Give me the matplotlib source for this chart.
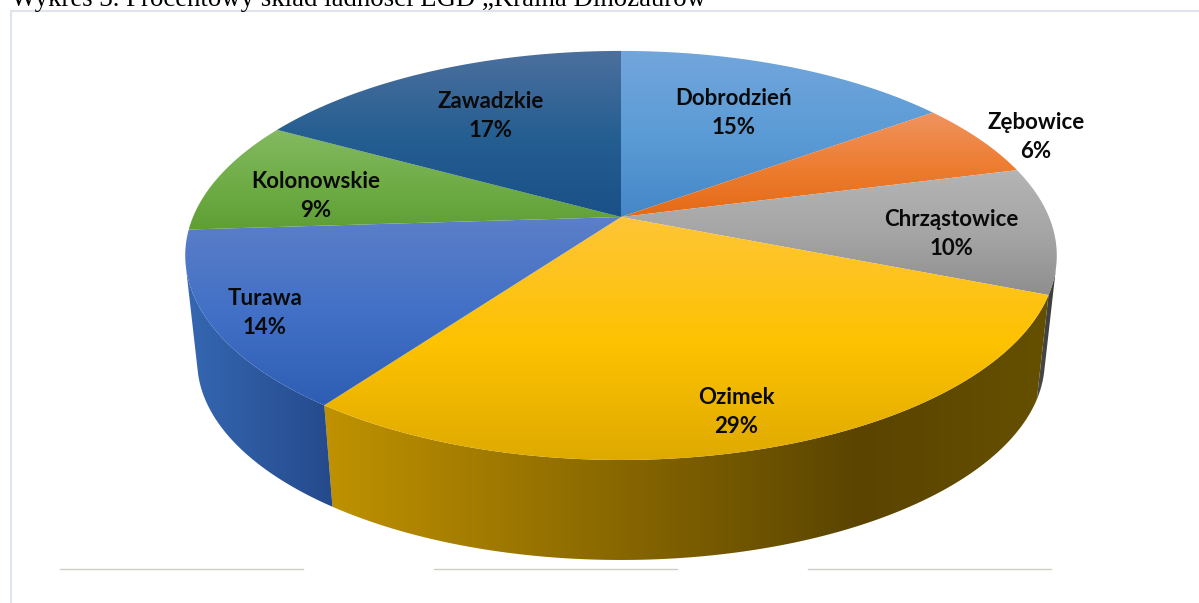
import numpy as np
import matplotlib
matplotlib.use("Agg")
import matplotlib.pyplot as plt
from matplotlib.colors import LinearSegmentedColormap, to_rgb
from matplotlib.patches import Polygon

# ---- data ----
names = ["Dobrodzień", "Zębowice", "Chrząstowice", "Ozimek", "Turawa", "Kolonowskie", "Zawadzkie"]
shares = [15, 6, 10, 29, 14, 9, 17]
title = "Wykres 3. Procentowy skład ładności LGD „Kraina Dinozaurów"

# ---- style ----
top_colors = [
    ("#72a6dc", "#5b9bd5", "#4487c8"),
    ("#f0935f", "#ed7d31", "#e56a15"),
    ("#b4b4b4", "#a5a5a5", "#8e8e8e"),
    ("#ffc537", "#fdc200", "#dfaa00"),
    ("#5c7fc8", "#4170c6", "#2e5db4"),
    ("#83b961", "#70ad47", "#5f9e35"),
    ("#4c709e", "#255e91", "#195188"),
]
wall_colors = [
    ("#3c6a98", "#2d5a88"),
    ("#a05018", "#803e10"),
    ("#4a4a4a", "#3a3a3a"),
    ("#c09200", "#5a4400"),
    ("#3567b2", "#254a8c"),
    ("#4a7030", "#3a5a25"),
    ("#1a4a75", "#143c60"),
]
label_xy = [(734, 113), (1036, 137), (951, 234), (736, 412), (265, 313), (316, 196), (491, 116)]

# ---- perspective model of the disc ----
CX, CY = 621.0, 217.0
BX, AY, K = 428.0, 197.3, 0.188
DEPTH_T, VY = 0.0275, 4096.0


def top_edge(theta):
    u, v = np.cos(theta), np.sin(theta)
    d = 1 + K * u
    return CX + BX * v / d, CY - AY * u / d


def bottom_edge(theta):
    x, y = top_edge(theta)
    return x + DEPTH_T * (CX - x), y + DEPTH_T * (VY - y)


def front_range():
    """Angles between which the outer wall faces the viewer (tangents seen from the vanishing point)."""
    t = np.linspace(0, 2 * np.pi, 7201)
    x, y = top_edge(t)
    cross = np.gradient(x) * (VY - y) - np.gradient(y) * (CX - x)
    front = t[cross < 0]
    return front.min(), front.max()


def fill_gradient(ax, poly_xy, cmap, horizontal, zorder, extent=None):
    xs, ys = poly_xy[:, 0], poly_xy[:, 1]
    x0, x1, y0, y1 = xs.min(), xs.max(), ys.min(), ys.max()
    if extent is not None:
        x0, x1 = extent
    grad = np.linspace(0, 1, 512)
    arr = grad[None, :] if horizontal else grad[:, None]
    im = ax.imshow(arr, cmap=cmap, extent=(x0, x1, y1, y0), origin="upper", vmin=0, vmax=1,
                   aspect="auto", zorder=zorder, interpolation="bilinear")
    patch = Polygon(poly_xy, closed=True, transform=ax.transData, fc="none", ec="none")
    ax.add_patch(patch)
    im.set_clip_path(patch)


fig = plt.figure(figsize=(11.99, 6.03), dpi=100, facecolor="white")
ax = fig.add_axes([0, 0, 1, 1])
ax.set_axis_off()

# frame, title and the stray rules below the chart
ax.plot([10.5, 10.5, 1199], [603, 11, 11], color="#e1e4ec", lw=1.6, zorder=1, solid_joinstyle="miter")
for x0, x1 in [(60, 303), (434, 677), (808, 1051)]:
    ax.plot([x0, x1], [569, 569], color="#cfcdc6", lw=1.0, zorder=1)
ax.text(11, 6, title, family="Liberation Serif", fontsize=19.3, color="black", ha="left",
        va="baseline", zorder=2)

fractions = np.array(shares, dtype=float) / sum(shares)
edges = np.concatenate([[0], np.cumsum(fractions)]) * 2 * np.pi
front_lo, front_hi = front_range()

# walls: only the parts that face the viewer
for i in range(len(shares)):
    lo, hi = max(edges[i], front_lo), min(edges[i + 1], front_hi)
    if hi <= lo:
        continue
    t = np.linspace(lo, hi, 240)
    tx, ty = top_edge(t)
    bx, by = bottom_edge(t)
    poly = np.column_stack([np.r_[tx, bx[::-1]], np.r_[ty, by[::-1]]])
    if names[i] == "Ozimek":
        cmap = LinearSegmentedColormap.from_list(
            "w", [(0, wall_colors[i][0]), (0.74, wall_colors[i][1]), (1, "#655000")])
    else:
        cmap = LinearSegmentedColormap.from_list("w", wall_colors[i])
    fill_gradient(ax, poly, cmap, True, 3 + i * 0.01)

# top faces
for i in range(len(shares)):
    t = np.linspace(edges[i], edges[i + 1], 240)
    x, y = top_edge(t)
    poly = np.column_stack([np.r_[CX, x], np.r_[CY, y]])
    stops = [to_rgb(c) for c in top_colors[i]]
    cmap = LinearSegmentedColormap.from_list("t", list(zip([0, 0.52, 1], stops)))
    fill_gradient(ax, poly, cmap, False, 4 + i * 0.01)

# labels
for name, share, (lx, ly) in zip(names, shares, label_xy):
    ax.text(lx, ly, f"{name}\n{share}%", family="Lato", fontweight="bold", fontsize=16,
            color="#0a0a0a", ha="center", va="center", linespacing=1.42, zorder=6)

ax.set_xlim(0, 1199)
ax.set_ylim(603, 0)
fig.savefig("out.png", dpi=100, facecolor="white")
